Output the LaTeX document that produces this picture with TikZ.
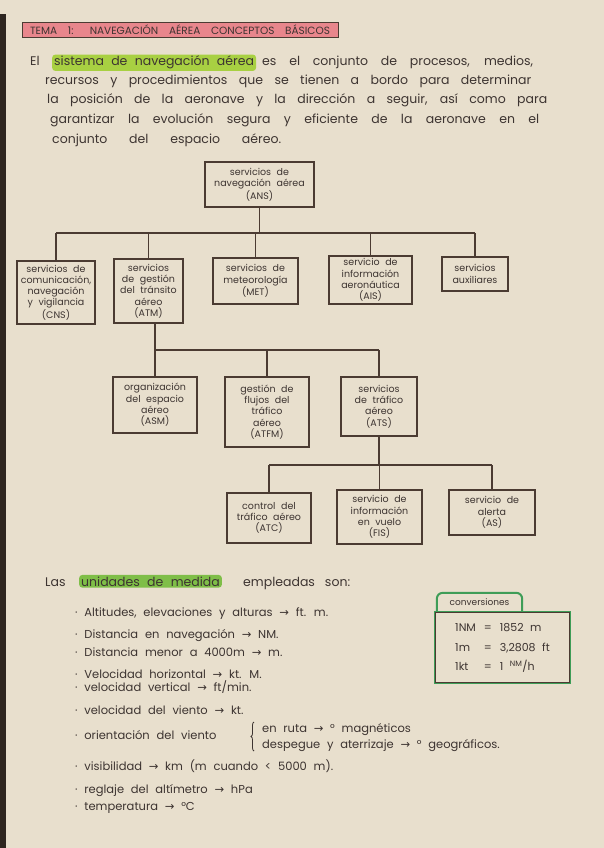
\documentclass[tikz,border=0pt]{standalone}
\usepackage{fontspec}
\setmainfont{Poppins}[WordSpace=2.2]
\newfontfamily\arrowfont{DejaVu Sans}
\newcommand\toarrow{{\arrowfont\symbol{"2192}}}
\usetikzlibrary{decorations.pathreplacing}
\definecolor{paper}{HTML}{E8DFCD}
\definecolor{edge}{HTML}{2E2620}
\definecolor{ink}{HTML}{3D3431}
\definecolor{boxline}{HTML}{4B3B32}
\definecolor{titlepink}{HTML}{E8868C}
\definecolor{lime}{HTML}{A8D042}
\definecolor{leaf}{HTML}{7FBE48}
\definecolor{convgreen}{HTML}{3E9D57}
\begin{document}
\begin{tikzpicture}[x=1pt, y=-1pt,
  box/.style={draw=boxline, line width=1.1pt, align=center, text=ink, inner sep=1pt, font=\fontsize{9.5}{11.3}\selectfont},
  txt/.style={anchor=base west, inner sep=0pt, text=ink, font=\fontsize{12.5}{14}\selectfont},
  hl/.style={txt, fill=#1, rounded corners=3pt, inner xsep=2pt, inner ysep=1.5pt},
  item/.style={txt, font=\fontsize{11.5}{13}\selectfont},
  wire/.style={draw=boxline, line width=1.1pt}
]
\useasboundingbox (0,0) rectangle (604,848);
\fill[paper] (0,0) rectangle (604,848);
\fill[edge] (0,14) rectangle (6,848);

\node[draw=boxline, fill=titlepink, line width=0.9pt, minimum width=316pt, minimum height=15pt, inner sep=0pt, text=ink, font=\fontsize{10.5}{11}\selectfont] (tema) at (180,29.5) {\makebox[300pt][s]{TEMA 1: NAVEGACIÓN AÉREA CONCEPTOS BÁSICOS}};

\node[txt] (p1) at (30,66) {El};
\node[hl=lime] (sna) at (52,66) {sistema de navegación aérea};
\node[txt] (p1b) at (262,66) {\makebox[271pt][s]{es el conjunto de procesos, medios,}};
\node[txt] (p2) at (45,85) {\makebox[486pt][s]{recursos y procedimientos que se tienen a bordo para determinar}};
\node[txt] (p3) at (47,104) {\makebox[500pt][s]{la posición de la aeronave y la dirección a seguir, así como para}};
\node[txt] (p4) at (50,124) {\makebox[489pt][s]{garantizar la evolución segura y eficiente de la aeronave en el}};
\node[txt] (p5) at (52,143) {\makebox[229pt][s]{conjunto del espacio aéreo.}};

\node[box, minimum width=109pt, minimum height=45pt] (ans) at (259.5,184.5) {servicios de\\navegación aérea\\(ANS)};
\node[box, minimum width=78pt, minimum height=63pt] (cns) at (56,292.5) {servicios de\\comunicación,\\navegación\\y vigilancia\\(CNS)};
\node[box, minimum width=69pt, minimum height=64pt] (atm) at (148.5,291) {servicios\\de gestión\\del tránsito\\aéreo\\(ATM)};
\node[box, minimum width=85pt, minimum height=46pt] (met) at (255.5,281) {servicios de\\meteorología\\(MET)};
\node[box, minimum width=83pt, minimum height=48pt] (ais) at (370.5,280) {servicio de\\información\\aeronáutica\\(AIS)};
\node[box, minimum width=66pt, minimum height=34pt] (aux) at (475,274) {servicios\\auxiliares};
\node[box, minimum width=84pt, minimum height=56pt] (asm) at (155,405) {organización\\del espacio\\aéreo\\(ASM)};
\node[box, minimum width=84pt, minimum height=70pt] (atfm) at (267,412) {gestión de\\flujos del\\tráfico\\aéreo\\(ATFM)};
\node[box, minimum width=76pt, minimum height=59pt] (ats) at (379,406.5) {servicios\\de tráfico\\aéreo\\(ATS)};
\node[box, minimum width=84pt, minimum height=50pt] (atc) at (269,518) {control del\\tráfico aéreo\\(ATC)};
\node[box, minimum width=85pt, minimum height=54pt] (fis) at (379.5,517) {servicio de\\información\\en vuelo\\(FIS)};
\node[box, minimum width=86pt, minimum height=45pt] (alert) at (492,512.5) {servicio de\\alerta\\(AS)};

\coordinate (bus1) at (0,233);
\coordinate (bus2) at (0,350);
\coordinate (bus3) at (0,465);
\draw[wire] (ans) -- (ans |- bus1);
\draw[wire] (cns |- bus1) -- (aux |- bus1);
\foreach \n in {cns,atm,met,ais,aux}
  \draw[wire] (\n) -- (\n |- bus1);
\draw[wire] (atm.south -| asm) -- (asm);
\draw[wire] (asm |- bus2) -- (ats |- bus2);
\foreach \n in {atfm,ats}
  \draw[wire] (\n) -- (\n |- bus2);
\draw[wire] (ats) -- (ats |- bus3);
\draw[wire] (atc |- bus3) -- (alert |- bus3);
\foreach \n in {atc,fis,alert}
  \draw[wire] (\n) -- (\n |- bus3);

\node[txt] (las) at (45,586) {Las};
\node[hl=leaf] (udm) at (79,586) {unidades de medida};
\node[txt] (emp) at (243,586) {empleadas\hspace{10pt}son:};

\node[item] (alt) at (75,616) {· Altitudes, elevaciones y alturas \toarrow{} ft. m.};
\node[item] (dnav) at (75,638) {· Distancia en navegación \toarrow{} NM.};
\node[item] (dmen) at (75,656) {· Distancia menor a 4000m \toarrow{} m.};
\node[item] (vhor) at (75,678) {· Velocidad horizontal \toarrow{} kt. M.};
\node[item] (vver) at (75,691) {· velocidad vertical \toarrow{} ft/min.};
\node[item] (vvie) at (75,714) {· velocidad del viento \toarrow{} kt.};
\node[item] (ovie) at (75,739) {· orientación del viento};
\draw[ink, line width=0.8pt, decorate, decoration={brace, amplitude=3pt}] (254,751) -- (254,722);
\node[item] (ruta) at (262,732) {en ruta \toarrow{} ° magnéticos};
\node[item] (desp) at (262,748) {despegue y aterrizaje \toarrow{} ° geográficos.};
\node[item] (vis) at (75,770) {· visibilidad \toarrow{} km (m cuando < 5000 m).};
\node[item] (regl) at (75,793) {· reglaje del altímetro \toarrow{} hPa};
\node[item] (temp) at (75,810) {· temperatura \toarrow{} °C};

\node[minimum width=85pt, minimum height=19pt, inner sep=0pt, text=ink, font=\fontsize{9}{10}\selectfont] (convtab) at (479.5,602.5) {conversiones};
\draw[convgreen, line width=2pt, rounded corners=6pt] (convtab.south west) |- (convtab.north east) -- (convtab.south east);
\node[draw=convgreen, line width=2.4pt, minimum width=135pt, minimum height=71pt, inner sep=0pt, text=ink, font=\fontsize{11}{19.5}\selectfont] (conv) at (502.5,647.5) {\begin{tabular}{@{}l@{\hspace{8pt}}c@{\hspace{8pt}}l@{}}1NM & = & 1852 m\\ 1m & = & 3,2808 ft\\ 1kt & = & 1 \textsuperscript{NM}/h\end{tabular}};
\draw[boxline, line width=0.7pt] ([shift={(2pt,-2pt)}]conv.north west) rectangle ([shift={(-2pt,2pt)}]conv.south east);
\end{tikzpicture}
\end{document}
